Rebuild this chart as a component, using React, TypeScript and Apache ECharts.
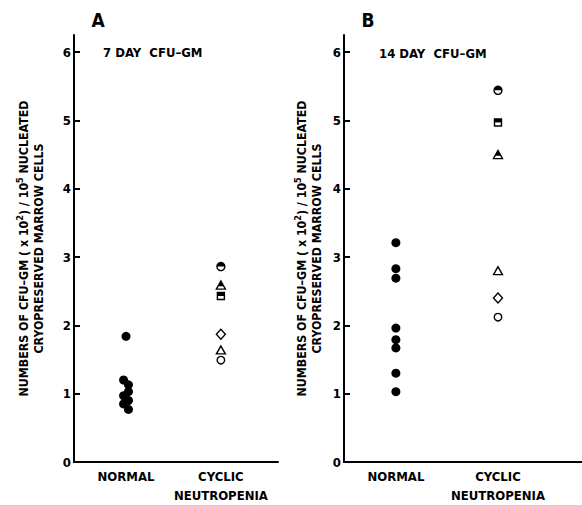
import React, { useEffect, useRef } from "react";
import * as echarts from "echarts";

// ---------- data ----------
const categories = ["NORMAL", "CYCLIC\nNEUTROPENIA"];
const yTicks = [0, 1, 2, 3, 4, 5, 6];

// Panel A: 7 day CFU-GM
const normalA = [1.84, 1.2, 1.13, 1.03, 0.97, 0.9, 0.85, 0.77];
const normalASide = [0, -1, 1, 1, -1, 1, -1, 1];
// cyclic patients (same order of symbols in both panels)
const patientSymbols = ["halfCircle", "halfTriangle", "halfSquare", "diamond", "triangle", "circle"];
const cyclicA = [2.86, 2.59, 2.43, 1.87, 1.64, 1.49];

// Panel B: 14 day CFU-GM
const normalB = [3.21, 2.83, 2.69, 1.96, 1.79, 1.67, 1.3, 1.03];
const normalBSide = [0, 0, 0, 0, 0, 0, 0, 0];
const cyclicB = [5.44, 4.5, 4.97, 2.4, 2.8, 2.12];

// category centres along each hidden x scale (0..10)
const catPosA = [2.55, 7.2];
const catPosB = [2.18, 6.47];

const FONT = "'Liberation Sans Narrow', 'DejaVu Sans Condensed', sans-serif";
const JITTER = 0.12;

function buildPanel(idx: number, normal: number[], side: number[], cyclic: number[], catPos: number[]) {
  const series: any[] = [];
  series.push({
    type: "scatter",
    xAxisIndex: idx,
    yAxisIndex: idx,
    symbol: "circle",
    symbolSize: 9,
    itemStyle: { color: "#000", opacity: 1 },
    data: normal.map((v, i) => [catPos[0] + side[i] * JITTER, v]),
    z: 3,
  });
  patientSymbols.forEach((kind, i) => {
    const pt = [[catPos[1], cyclic[i]]];
    const open = { color: "#fff", borderColor: "#000", borderWidth: 1.4, opacity: 1 };
    let baseSymbol = "circle";
    let baseSize: any = 8;
    if (kind === "halfCircle") { baseSymbol = "circle"; baseSize = 8; }
    if (kind === "halfTriangle" || kind === "triangle") { baseSymbol = "triangle"; baseSize = [9, 8]; }
    if (kind === "halfSquare") { baseSymbol = "rect"; baseSize = [7, 7]; }
    if (kind === "diamond") { baseSymbol = "diamond"; baseSize = [9, 10]; }
    if (kind === "circle") { baseSymbol = "circle"; baseSize = 7.5; }
    series.push({
      type: "scatter",
      xAxisIndex: idx,
      yAxisIndex: idx,
      symbol: baseSymbol,
      symbolSize: baseSize,
      itemStyle: open,
      data: pt,
      z: 3,
    });
    if (kind.startsWith("half")) {
      let sym = "path://M0,5 A5,5 0 0 1 10,5 Z";
      let size: any = [8, 4];
      let off: any = [0, -2];
      if (kind === "halfTriangle") { sym = "triangle"; size = [5.9, 5.2]; off = [0, -1.4]; }
      if (kind === "halfSquare") { sym = "rect"; size = [7, 3.5]; off = [0, -1.75]; }
      series.push({
        type: "scatter",
        xAxisIndex: idx,
        yAxisIndex: idx,
        symbol: sym,
        symbolSize: size,
        symbolOffset: off,
        itemStyle: { color: "#000", opacity: 1 },
        data: pt,
        z: 4,
      });
    }
  });
  return series;
}

function yAxis(idx: number, gap: number) {
  return {
    type: "value",
    gridIndex: idx,
    min: 0,
    max: 6.25,
    axisLine: { show: true, lineStyle: { color: "#000", width: 2 } },
    axisTick: { show: true, inside: true, length: 6, customValues: yTicks, lineStyle: { color: "#000", width: 2 } },
    axisLabel: { customValues: yTicks, margin: 3, color: "#000", fontSize: 13, fontWeight: "bold", fontFamily: FONT },
    splitLine: { show: false },
    name: "NUMBERS OF CFU–GM ( x 10{s|2}) / 10{s|5} NUCLEATED\nCRYOPRESERVED MARROW CELLS",
    nameLocation: "middle",
    nameRotate: 90,
    nameGap: gap,
    nameTextStyle: {
      color: "#000",
      fontSize: 12.3,
      fontWeight: "bold",
      fontFamily: FONT,
      lineHeight: 15,
      rich: {
        s: { fontSize: 9, fontWeight: "bold", fontFamily: FONT, color: "#000", lineHeight: 15, padding: [0, 0, 8, 0] },
      },
    },
  };
}

function xAxis(idx: number, catPos: number[]) {
  return {
    type: "value",
    gridIndex: idx,
    min: 0,
    max: 10,
    axisLine: { show: true, onZero: false, lineStyle: { color: "#000", width: 2 } },
    axisTick: { show: false },
    splitLine: { show: false },
    axisLabel: {
      customValues: catPos,
      margin: 5,
      color: "#000",
      fontSize: 13,
      fontWeight: "bold",
      fontFamily: FONT,
      lineHeight: 19,
      formatter: (v: number) => {
        const i = catPos.findIndex((p) => Math.abs(p - v) < 1e-6);
        return i >= 0 ? categories[i] : "";
      },
    },
  };
}

export default function App() {
  const ref = useRef<HTMLDivElement>(null);
  useEffect(() => {
    if (!ref.current) return;
    const chart = echarts.init(ref.current, null, { renderer: "svg" });
    const textStyle = { fill: "#000", fontFamily: FONT, fontWeight: "bold" };
    chart.setOption({
      animation: false,
      backgroundColor: "#fff",
      grid: [
        { left: 74, top: 35, width: 204, height: 430 },
        { left: 344, top: 35, width: 238, height: 430 },
      ],
      xAxis: [xAxis(0, catPosA), xAxis(1, catPosB)],
      yAxis: [yAxis(0, 28), yAxis(1, 20)],
      series: [
        ...buildPanel(0, normalA, normalASide, cyclicA, catPosA),
        ...buildPanel(1, normalB, normalBSide, cyclicB, catPosB),
      ],
      graphic: [
        { type: "text", x: 98, y: 20, style: { ...textStyle, text: "A", fontSize: 19, align: "center", verticalAlign: "middle" } },
        { type: "text", x: 368, y: 20, style: { ...textStyle, text: "B", fontSize: 19, align: "center", verticalAlign: "middle" } },
        { type: "text", x: 103, y: 52, style: { ...textStyle, text: "7 DAY  CFU–GM", fontSize: 13, align: "left", verticalAlign: "middle" } },
        { type: "text", x: 379, y: 53, style: { ...textStyle, text: "14 DAY  CFU–GM", fontSize: 13, align: "left", verticalAlign: "middle" } },
      ],
    });
    return () => chart.dispose();
  }, []);
  return (
    <div
      ref={ref}
      style={{ position: "fixed", left: 0, top: 0, width: 582, height: 505, background: "#fff" }}
    />
  );
}
